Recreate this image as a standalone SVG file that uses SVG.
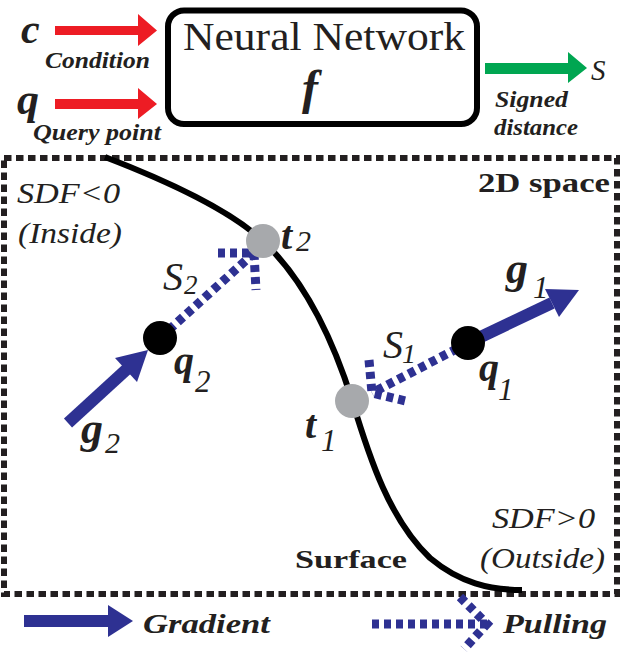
<svg xmlns="http://www.w3.org/2000/svg" width="623" height="654" viewBox="0 0 623 654">
<style>
.t{font-family:'Liberation Serif','Times New Roman',serif;fill:#231f20}
.bi{font-weight:bold;font-style:italic}
.i{font-style:italic}
.b{font-weight:bold}
.pull{fill:none;stroke:#2e3192;stroke-width:9;stroke-dasharray:7 5}
.frame{fill:none;stroke:#231f20;stroke-width:6;stroke-dasharray:7.5 4.5}
</style>
<rect width="623" height="654" fill="#fff"/>
<g id="space">
<rect class="frame" x="4" y="158" width="613" height="436"/>
<text class="t b" x="478" y="192" font-size="27" textLength="132" lengthAdjust="spacingAndGlyphs">2D space</text>
<text class="t i" x="17" y="203" font-size="30" textLength="103" lengthAdjust="spacingAndGlyphs">SDF&lt;0</text>
<text class="t i" x="18" y="243" font-size="30" textLength="104" lengthAdjust="spacingAndGlyphs">(Inside)</text>
<text class="t i" x="492" y="528" font-size="30" textLength="103" lengthAdjust="spacingAndGlyphs">SDF&gt;0</text>
<text class="t i" x="480" y="568" font-size="30" textLength="125" lengthAdjust="spacingAndGlyphs">(Outside)</text>
</g>
<g id="surface">
<path d="M105,157 C170,182 230,210 263,241 C300,276 330,330 352,400 C370,460 390,520 430,558 C460,583 490,590 522,590" fill="none" stroke="#000" stroke-width="6"/>
<text class="t b" x="295" y="568" font-size="25" textLength="112" lengthAdjust="spacingAndGlyphs">Surface</text>
</g>
<g id="nn">
<rect x="168" y="10.5" width="309" height="113.5" rx="16" fill="none" stroke="#000" stroke-width="6"/>
<text class="t" x="183" y="50" font-size="41" textLength="282" lengthAdjust="spacingAndGlyphs">Neural Network</text>
<text class="t bi" x="302" y="104" font-size="48">f</text>
</g>
<g id="inputs">
<text class="t bi" x="21" y="43" font-size="42">c</text>
<text class="t bi" x="45" y="68" font-size="24" textLength="105" lengthAdjust="spacingAndGlyphs">Condition</text>
<text class="t bi" x="17" y="114" font-size="44">q</text>
<text class="t bi" x="33" y="140" font-size="24" textLength="128" lengthAdjust="spacingAndGlyphs">Query point</text>
<text class="t i" x="591" y="80" font-size="29">S</text>
<text class="t bi" x="495" y="107" font-size="24" textLength="73" lengthAdjust="spacingAndGlyphs">Signed</text>
<text class="t bi" x="494" y="135" font-size="24" textLength="84" lengthAdjust="spacingAndGlyphs">distance</text>
</g>
<g id="connectors">
<polygon points="55,26 138,26 138,14 157,30.5 138,46 138,35 55,35" fill="#ed1c24"/>
<polygon points="55,99 138,99 138,88 157,104 138,119 138,109 55,109" fill="#ed1c24"/>
<polygon points="485,63 568,63 568,52 587,68 568,83 568,74 485,74" fill="#00a651"/>
<path class="pull" d="M160,338 L254,253"/>
<path class="pull" d="M218,253 L254,253 L256,290"/>
<path class="pull" d="M468,343 L372,393"/>
<path class="pull" d="M369,360 L372,393 L406,401"/>
<line x1="468" y1="343" x2="552" y2="303" stroke="#2e3192" stroke-width="12"/>
<polygon points="579,290 559,317 545,289" fill="#2e3192"/>
<line x1="68" y1="423" x2="127" y2="369" stroke="#2e3192" stroke-width="12"/>
<polygon points="148,350 137,382 115,358" fill="#2e3192"/>
</g>
<g id="t2">
<circle cx="263" cy="241" r="17" fill="#a7a9ac"/>
<text class="t bi" x="281" y="249" font-size="40">t</text>
<text class="t i" x="296" y="251" font-size="30">2</text>
</g>
<g id="t1">
<circle cx="352" cy="401" r="17" fill="#a7a9ac"/>
<text class="t bi" x="305" y="438" font-size="40">t</text>
<text class="t i" x="321" y="451" font-size="31">1</text>
</g>
<g id="q2">
<circle cx="160" cy="338" r="17" fill="#000"/>
<text class="t bi" x="174" y="374" font-size="40">q</text>
<text class="t i" x="195" y="392" font-size="31">2</text>
<text class="t i" x="163" y="290" font-size="40">S</text>
<text class="t i" x="184" y="294" font-size="27">2</text>
</g>
<g id="q1">
<circle cx="468" cy="343" r="17" fill="#000"/>
<text class="t bi" x="479" y="381" font-size="40">q</text>
<text class="t i" x="498" y="400" font-size="31">1</text>
<text class="t i" x="383" y="358" font-size="40">S</text>
<text class="t i" x="402" y="363" font-size="28">1</text>
<text class="t bi" x="506" y="283" font-size="44">g</text>
<text class="t i" x="533" y="298" font-size="31">1</text>
</g>
<g id="g2">
<text class="t bi" x="81" y="443" font-size="44">g</text>
<text class="t i" x="105" y="453" font-size="30">2</text>
</g>
<g id="legend">
<polygon points="24,615 108,615 108,605 133,621 108,637 108,627 24,627" fill="#2e3192"/>
<text class="t bi" x="143" y="633" font-size="27" textLength="127" lengthAdjust="spacingAndGlyphs">Gradient</text>
<path class="pull" d="M372,624 L487,624"/>
<path class="pull" d="M460,597 L487,624 L464,649"/>
<text class="t bi" x="503" y="633" font-size="27" textLength="104" lengthAdjust="spacingAndGlyphs">Pulling</text>
</g>
</svg>
